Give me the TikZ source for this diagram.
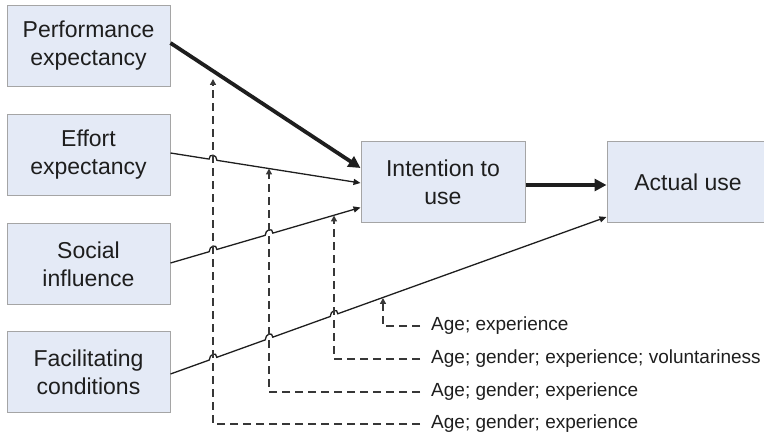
\documentclass[tikz,border=0pt]{standalone}
\usepackage{fontspec}
\setmainfont{Liberation Sans}
\usetikzlibrary{arrows.meta,calc,intersections}
\definecolor{boxfill}{RGB}{228,234,246}
\definecolor{boxline}{RGB}{165,165,165}
\definecolor{ink}{RGB}{30,30,30}
\definecolor{dashink}{RGB}{55,55,55}
\begin{document}
\begin{tikzpicture}[x=1pt,y=-1pt,
  box/.style={draw=boxline,fill=boxfill,line width=1pt,minimum width=163pt,minimum height=81pt,
    align=center,font=\fontsize{23}{28}\selectfont,text=ink,inner sep=0pt},
  lbl/.style={anchor=west,font=\fontsize{19}{22}\selectfont,text=ink,inner sep=0pt},
  bigarrow/.style={draw=ink,line width=3.8pt,-{Triangle[length=12pt,width=12pt]}},
  thinarrow/.style={draw=ink,line width=1.3pt,-{Triangle[length=7pt,width=6pt]}},
  modarrow/.style={draw=dashink,line width=1.4pt,dash pattern=on 8pt off 5pt,-{Triangle[length=6pt,width=6pt]}}
]
\useasboundingbox (0,0) rectangle (764,438);

% boxes
\node[box] (perf) at (88.5,46) {Performance\\expectancy};
\node[box] (eff) at (88.5,155) {Effort\\expectancy};
\node[box] (soc) at (88.5,264) {Social\\influence};
\node[box] (fac) at (88.5,372.5) {Facilitating\\conditions};
\node[box,minimum width=164pt] (int) at (443,182.5) {Intention to\\use};
\node[box,minimum width=162pt] (act) at (688,182.5) {Actual use};

% labels
\node[lbl] (l4) at (431,326) {Age; experience};
\node[lbl] (l3) at (431,359) {Age; gender; experience; voluntariness};
\node[lbl] (l2) at (431,392) {Age; gender; experience};
\node[lbl] (l1) at (431,424) {Age; gender; experience};

% connector end points
\coordinate (perfS) at ([yshift=3pt]perf.east);
\coordinate (perfE) at ([yshift=14.5pt]int.west);
\coordinate (effS) at ([yshift=2pt]eff.east);
\coordinate (effE) at ([yshift=-0.5pt]int.west);
\coordinate (socS) at ([yshift=1pt]soc.east);
\coordinate (socE) at ([yshift=-25pt]int.west);
\coordinate (facS) at ([yshift=-1.5pt]fac.east);
\coordinate (facE) at ([yshift=-34.5pt]act.west);
\coordinate (intS) at ([yshift=-2.5pt]int.east);
\coordinate (actE) at ([yshift=-2.5pt]act.west);

% moderator tips and corners
\coordinate (t1) at (213,79);
\coordinate (t2) at (269,168.5);
\coordinate (t3) at (334,215.5);
\coordinate (t4) at (383,298);
\coordinate (c1) at ([xshift=-11pt]l1.west);
\coordinate (c2) at ([xshift=-11pt]l2.west);
\coordinate (c3) at ([xshift=-11pt]l3.west);
\coordinate (c4) at ([xshift=-11pt]l4.west);

% paths for crossings
\path[name path=v1] (t1) -- (t1 |- c1);
\path[name path=v2] (t2) -- (t2 |- c2);
\path[name path=v3] (t3) -- (t3 |- c3);
\path[name path=pe] (effS) -- (effE);
\path[name path=ps] (socS) -- (socE);
\path[name path=pf] (facS) -- (facE);
\path[name intersections={of=pe and v1,by=he1}];
\path[name intersections={of=ps and v1,by=hs1}];
\path[name intersections={of=ps and v2,by=hs2}];
\path[name intersections={of=pf and v1,by=hf1}];
\path[name intersections={of=pf and v2,by=hf2}];
\path[name intersections={of=pf and v3,by=hf3}];

% main connectors
\draw[bigarrow] (perfS) -- (perfE);
\draw[bigarrow] (intS) -- (actE);
\draw[thinarrow] (effS) -- ($(he1)!4pt!(effS)$)
  .. controls +(0pt,6pt) and +(0pt,6pt) .. ($(he1)!4pt!(effE)$) -- (effE);
\draw[thinarrow] (socS) -- ($(hs1)!4pt!(socS)$)
  .. controls +(0pt,6pt) and +(0pt,6pt) .. ($(hs1)!4pt!(socE)$)
  -- ($(hs2)!4pt!(socS)$)
  .. controls +(0pt,6pt) and +(0pt,6pt) .. ($(hs2)!4pt!(socE)$) -- (socE);
\draw[thinarrow] (facS) -- ($(hf1)!4pt!(facS)$)
  .. controls +(0pt,6pt) and +(0pt,6pt) .. ($(hf1)!4pt!(facE)$)
  -- ($(hf2)!4pt!(facS)$)
  .. controls +(0pt,6pt) and +(0pt,6pt) .. ($(hf2)!4pt!(facE)$)
  -- ($(hf3)!4pt!(facS)$)
  .. controls +(0pt,6pt) and +(0pt,6pt) .. ($(hf3)!4pt!(facE)$) -- (facE);

% moderators
\draw[modarrow] (c1) -| (t1);
\draw[modarrow] (c2) -| (t2);
\draw[modarrow] (c3) -| (t3);
\draw[modarrow] (c4) -| (t4);
\end{tikzpicture}
\end{document}
